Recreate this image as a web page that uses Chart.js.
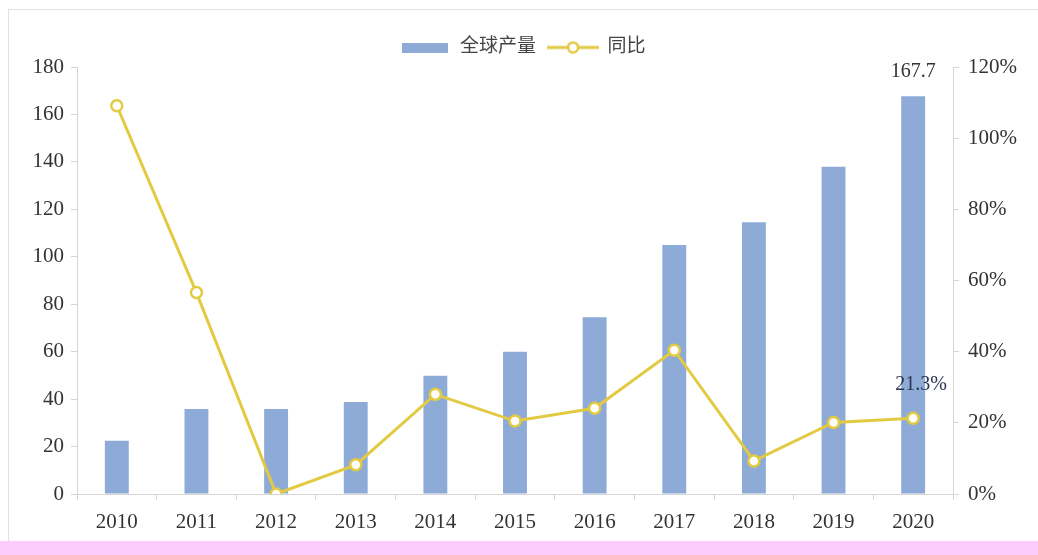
<!DOCTYPE html>
<html>
<head>
<meta charset="utf-8">
<script src="https://cdn.jsdelivr.net/npm/chart.js@4.4.1/dist/chart.umd.min.js"></script>
<style>
  html, body { margin: 0; padding: 0; background: #fff; }
  #wrap { position: relative; width: 1038px; height: 555px; overflow: hidden; }
  #frame { position: absolute; left: 8px; top: 9px; width: 1040px; height: 560px; border: 1px solid #e2e2e2; box-sizing: border-box; }
  #box { position: absolute; left: 0; top: 0; width: 1038px; height: 541px; }
  #band { position: absolute; left: 0; top: 541px; width: 1038px; height: 14px; background: #fccdfc; }
</style>
</head>
<body>
<div id="wrap">
  <div id="frame"></div>
  <div id="box"><canvas id="chart"></canvas></div>
  <div id="band"></div>
</div>
<script>
let years = ['2010','2011','2012','2013','2014','2015','2016','2017','2018','2019','2020'];
let output = [22.5, 35.8, 35.8, 38.8, 49.8, 60.0, 74.5, 105.0, 114.6, 138.0, 167.7];
let growth = [109.1, 56.6, 0.0, 8.2, 28.0, 20.5, 24.1, 40.4, 9.3, 20.1, 21.3];
let leftTicks = [0, 20, 40, 60, 80, 100, 120, 140, 160, 180];
let rightTicks = [0, 20, 40, 60, 80, 100, 120];

const barColor = '#8eabd7';
const lineColor = '#e2ca42';
const fontFam = "'Liberation Serif', 'Noto Sans CJK SC', serif";

// legend swatches
function swatchBar() {
  const c = document.createElement('canvas');
  c.width = 46; c.height = 10;
  const g = c.getContext('2d');
  g.fillStyle = barColor;
  g.fillRect(0, 0, 46, 10);
  return c;
}
function swatchLine() {
  const c = document.createElement('canvas');
  c.width = 52; c.height = 14;
  const g = c.getContext('2d');
  g.strokeStyle = lineColor;
  g.lineWidth = 3;
  g.beginPath(); g.moveTo(0, 7); g.lineTo(52, 7); g.stroke();
  g.fillStyle = '#fff';
  g.lineWidth = 2.5;
  g.beginPath(); g.arc(26, 7, 5, 0, Math.PI * 2); g.fill(); g.stroke();
  return c;
}

// value labels on the last bar and the last point
const endLabels = {
  id: 'endLabels',
  afterDatasetsDraw(chart) {
    const ctx = chart.ctx;
    const n = years.length - 1;
    const bar = chart.getDatasetMeta(0).data[n];
    const pt = chart.getDatasetMeta(1).data[n];
    ctx.save();
    ctx.font = '20px ' + fontFam;
    ctx.textAlign = 'center';
    ctx.textBaseline = 'bottom';
    ctx.fillStyle = '#333';
    ctx.fillText(output[n].toFixed(1), bar.x, bar.y - 14);
    ctx.fillStyle = '#2b3550';
    ctx.fillText(growth[n].toFixed(1) + '%', pt.x + 8, pt.y - 23);
    ctx.restore();
  }
};

new Chart(document.getElementById('chart'), {
  data: {
    labels: years,
    datasets: [{
      type: 'bar',
      label: '全球产量',
      data: output,
      yAxisID: 'y',
      backgroundColor: barColor,
      barPercentage: 0.3,
      categoryPercentage: 1.0,
      order: 2
    }, {
      type: 'line',
      label: '同比',
      data: growth,
      yAxisID: 'y1',
      borderColor: lineColor,
      borderWidth: 3,
      pointRadius: 5.5,
      pointBorderWidth: 2.5,
      pointBackgroundColor: '#fff',
      pointBorderColor: lineColor,
      tension: 0,
      order: 1
    }]
  },
  options: {
    responsive: true,
    maintainAspectRatio: false,
    animation: false,
    layout: { padding: { left: 8, right: 0, top: 26, bottom: 0 } },
    plugins: {
      tooltip: { enabled: false },
      legend: {
        position: 'top',
        labels: {
          usePointStyle: true,
          pointStyleWidth: 50,
          padding: 12,
          color: '#444',
          font: { family: fontFam, size: 19 },
          generateLabels(chart) {
            return chart.data.datasets.map((ds, i) => ({
              text: ds.label,
              datasetIndex: i,
              pointStyle: i === 0 ? swatchBar() : swatchLine(),
              fillStyle: 'transparent',
              strokeStyle: 'transparent',
              lineWidth: 0,
              fontColor: '#444'
            }));
          }
        }
      }
    },
    scales: {
      x: {
        offset: true,
        grid: { display: true, drawOnChartArea: false, offset: true, color: '#d6d6d6', tickLength: 6 },
        border: { color: '#d6d6d6' },
        ticks: { color: '#333', font: { family: fontFam, size: 21 }, padding: 10 },
        afterFit(s) { s.height = 47; }
      },
      y: {
        position: 'left',
        min: 0, max: 180,
        afterBuildTicks(s) { s.ticks = leftTicks.map(v => ({ value: v })); },
        grid: { display: true, drawOnChartArea: false, color: '#d6d6d6', tickLength: 6 },
        border: { color: '#d6d6d6' },
        ticks: { color: '#333', font: { family: fontFam, size: 21 }, padding: 7 },
        afterFit(s) { s.width = 69; }
      },
      y1: {
        position: 'right',
        min: 0, max: 120,
        afterBuildTicks(s) { s.ticks = rightTicks.map(v => ({ value: v })); },
        grid: { display: true, drawOnChartArea: false, color: '#d6d6d6', tickLength: 6 },
        border: { color: '#d6d6d6' },
        ticks: { color: '#333', font: { family: fontFam, size: 21 }, padding: 9, callback: v => v + '%' },
        afterFit(s) { s.width = 85; }
      }
    }
  },
  plugins: [endLabels]
});
</script>
</body>
</html>
